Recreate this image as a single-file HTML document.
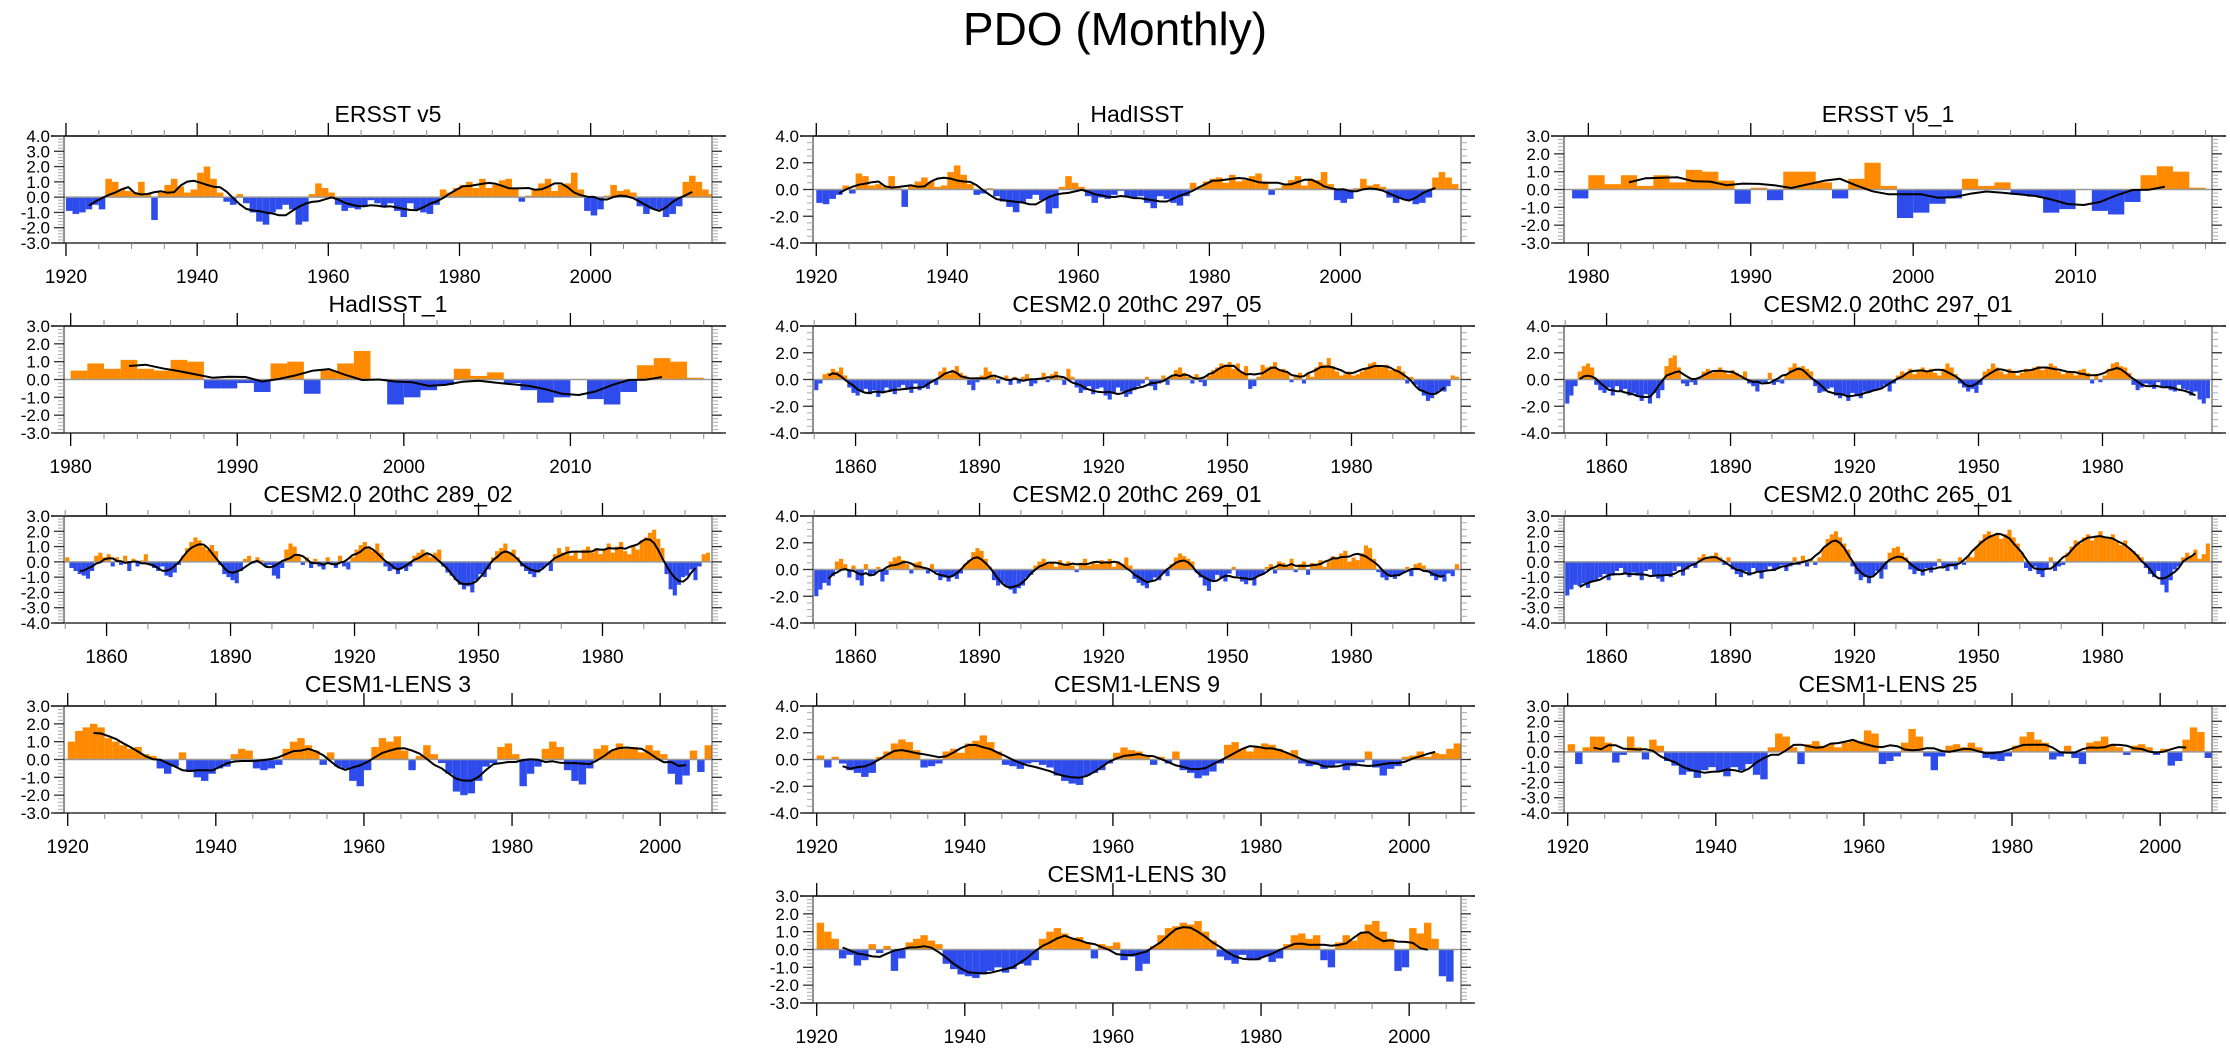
<!DOCTYPE html>
<html><head><meta charset="utf-8"><title>PDO (Monthly)</title>
<style>
html,body{margin:0;padding:0;background:#fff;}
svg{display:block;font-family:"Liberation Sans",Arial,sans-serif;}
</style></head>
<body>
<svg id="fig" width="2230" height="1051" viewBox="0 0 2230 1051" xmlns="http://www.w3.org/2000/svg">
<rect width="2230" height="1051" fill="#fff"/>
<text x="1115" y="45" font-size="46" text-anchor="middle" fill="#000">PDO (Monthly)</text>
</svg>
<script>
// ---- data: annual PDO values, one array per panel ----
const ersstV5Start = 1920;
const ersstV5Values = [-0.9,-1.1,-1.0,-0.8,-0.5,-0.8,1.2,1.0,0.5,0.4, 0.3,1.0,0.2,-1.5,0.3,0.8,1.2,0.7,0.3,0.5, 1.6,2.0,1.2,0.3,-0.3,-0.5,0.2,-0.4,-1.0,-1.6, -1.8,-1.0,-0.8,-0.5,-0.8,-1.8,-1.6,0.2,0.9,0.6, 0.3,-0.5,-0.9,-0.7,-0.8,-0.6,-0.2,-0.4,-0.6,-0.4, -0.9,-1.3,-0.4,-0.8,-1.0,-1.1,-0.5,0.5,0.3,0.6, 0.8,1.0,0.6,1.2,0.6,0.8,1.1,1.2,0.6,-0.3, 0.1,0.5,0.9,1.2,0.4,0.8,0.9,1.6,0.5,-0.9, -1.2,-0.8,0.1,0.8,0.4,0.5,0.3,-0.6,-1.1,-0.8, -0.8,-1.3,-1.1,-0.6,1.0,1.4,1.0,0.5,0.2];
const hadisstStart = 1920;
const hadisstValues = [-1.0,-1.1,-0.7,-0.4,0.3,-0.3,1.2,1.0,0.3,0.4, 0.2,1.0,0.1,-1.3,0.3,0.6,0.9,0.6,0.2,0.3, 1.3,1.8,1.1,0.4,-0.4,-0.3,0.1,-0.5,-0.9,-1.3, -1.7,-1.0,-0.7,-0.4,-0.8,-1.8,-1.4,0.2,1.0,0.5, 0.2,-0.5,-1.0,-0.6,-0.7,-0.4,-0.1,-0.5,-0.6,-0.5, -1.0,-1.4,-0.5,-0.7,-1.0,-1.2,-0.5,0.5,0.2,0.6, 0.8,0.9,0.5,1.1,0.6,0.7,1.0,1.2,0.6,-0.4, 0.1,0.3,0.7,1.0,0.3,0.8,0.7,1.3,0.4,-0.8, -1.0,-0.7,0.1,0.8,0.3,0.4,0.2,-0.6,-1.0,-0.7, -0.8,-1.1,-1.0,-0.6,0.9,1.3,0.9,0.4];
const ersstV51Start = 1979;
const ersstV51Values = [-0.5,0.8,0.3,0.8,0.2,0.8,0.4,1.1,1.0,0.5, -0.8,0.1,-0.6,1.0,1.0,0.4,-0.5,0.6,1.5,0.2, -1.6,-1.3,-0.8,-0.5,0.6,0.2,0.4,-0.3,-0.4,-1.3, -1.1,0.0,-1.2,-1.4,-0.7,0.8,1.3,1.0,0.1,0.0];
const hadisst1Start = 1980;
const hadisst1Values = [0.5,0.9,0.6,1.1,0.6,0.5,1.1,1.0,-0.5,-0.5, -0.2,-0.7,0.9,1.0,-0.8,0.5,0.9,1.6,0.0,-1.4, -1.0,-0.6,-0.3,0.6,0.2,0.4,-0.2,-0.6,-1.3,-1.0, 0.0,-1.1,-1.4,-0.7,0.8,1.2,1.0,0.1,0.0];
const cesm29705Start = 1850;
const cesm29705Values = [-0.8,-0.3,0.4,0.5,0.8,0.6,0.9,0.3,-0.6,-1.0, -1.2,-0.9,-0.7,-1.1,-0.8,-1.3,-1.0,-0.6,-0.9,-1.1, -0.6,-0.4,-0.7,-1.0,-0.3,-0.8,-0.5,-0.7,-0.2,-0.4, 0.6,0.9,0.4,0.7,1.0,0.5,0.3,-0.4,-0.8,-0.2, 0.3,0.9,0.6,0.2,-0.3,0.1,0.3,-0.4,0.2,-0.3, 0.2,0.4,-0.5,-0.3,0.1,0.5,-0.2,0.4,0.6,0.1, -0.4,0.8,0.2,-0.6,-1.0,-0.8,-0.5,-1.1,-0.7,-0.6, -1.2,-1.5,-1.0,-0.6,-0.9,-1.3,-1.1,-0.8,-0.5,-0.3, 0.2,-0.5,-0.8,-0.3,0.3,-0.4,0.2,0.7,0.9,0.5, 0.2,-0.3,0.4,-0.2,-0.5,0.3,0.7,0.9,1.2,1.1, 1.3,0.8,1.2,0.6,1.0,-0.7,-0.5,0.2,1.1,0.9, 1.0,1.3,0.7,0.8,0.5,-0.2,0.3,0.5,-0.3,0.4, 0.2,0.9,1.3,1.1,1.6,1.0,0.6,0.3,0.4,0.6, 0.3,0.4,0.6,0.9,1.2,1.3,1.0,0.9,1.1,0.7, 0.8,1.0,0.6,-0.3,0.2,-0.4,-0.8,-1.2,-1.6,-1.4, -1.0,-0.8,-0.9,-0.5,0.3,0.2];
const cesm29701Start = 1850;
const cesm29701Values = [-1.8,-1.2,-0.5,0.6,1.0,1.2,0.9,-0.4,-0.8,-1.0, -0.6,-1.2,-0.5,-0.9,-0.7,-1.2,-1.0,-1.3,-1.6,-1.1, -1.8,-1.0,-1.4,-0.8,1.0,1.6,1.8,0.9,-0.3,-0.5, -0.2,-0.4,0.2,0.6,0.8,0.5,0.7,0.9,0.6,0.4, 0.7,0.5,0.3,0.6,-0.3,-0.5,-0.9,-0.2,-0.3,0.5, -0.4,-0.2,-0.3,0.4,0.9,1.2,0.9,1.0,0.8,0.6, -0.5,-1.0,-0.9,-0.7,-0.6,-1.2,-1.4,-1.1,-1.6,-1.0, -1.2,-1.4,-0.9,-1.0,-0.8,-0.7,-0.6,-0.4,-0.9,-0.3, 0.3,0.6,0.5,0.8,0.4,0.7,0.9,0.6,0.8,0.5, 0.3,0.8,1.2,0.9,0.4,-0.3,-0.6,-0.9,-0.7,-1.0, -0.4,0.6,0.8,1.2,0.9,0.6,0.4,0.8,0.6,0.3, 0.5,0.8,0.6,0.9,1.0,0.7,0.9,1.2,1.0,0.6, 0.4,0.6,0.5,0.3,0.7,0.8,0.5,-0.3,0.4,-0.2, 0.3,0.8,1.2,1.3,1.0,0.9,0.5,-0.4,-0.8,-0.6, -0.3,-0.4,-0.7,-0.2,-0.5,-0.6,-0.8,-0.9,-0.4,-0.7, -0.8,-1.2,-0.9,-1.5,-1.8,-1.4];
const cesm28902Start = 1850;
const cesm28902Values = [0.3,-0.4,-0.6,-0.8,-0.9,-1.1,-0.6,0.4,0.6,0.3, 0.5,-0.3,0.3,-0.2,0.4,-0.6,0.2,-0.3,0.1,0.5, -0.2,-0.4,-0.6,-0.3,-0.9,-1.0,-0.7,-0.2,0.4,0.9, 1.3,1.6,1.4,1.0,0.8,1.1,0.7,-0.2,-0.8,-1.0, -1.2,-1.4,-0.6,0.2,0.4,-0.1,0.3,0.1,-0.3,-0.2, -0.9,-1.1,-0.4,0.8,1.2,1.0,0.5,-0.2,0.3,-0.4, 0.2,-0.3,-0.5,0.3,-0.2,-0.4,0.4,-0.3,-0.5,0.3, 0.8,1.1,1.3,1.0,0.7,1.2,0.6,-0.3,-0.6,-0.5, -0.8,-0.4,-0.6,-0.3,0.4,0.6,0.8,0.5,0.3,0.6, 0.8,-0.3,-0.7,-0.9,-1.2,-1.5,-1.8,-1.6,-2.0,-1.2, -0.8,-1.0,-0.5,0.3,0.7,0.9,1.2,0.6,0.8,0.3, -0.3,-0.6,-0.8,-1.0,-0.7,-0.4,-0.2,-0.6,0.5,0.9, 0.6,1.0,0.4,0.7,0.2,0.8,1.0,0.6,0.9,0.5, 0.8,1.2,0.6,1.0,1.3,0.7,0.5,1.1,0.8,1.4, 1.6,1.9,2.1,1.5,0.9,-0.8,-1.8,-2.2,-1.5,-1.0, -0.9,-0.5,-1.2,-0.3,0.5,0.6];
const cesm26901Start = 1850;
const cesm26901Values = [-2.0,-1.5,-1.0,-1.2,-0.5,0.6,0.8,0.4,-0.6,0.3, -0.8,-1.2,0.4,-0.5,-0.3,0.2,-0.9,-0.4,0.6,0.9, 1.0,0.7,0.4,-0.3,0.5,0.6,0.2,-0.3,0.4,-0.2, -0.8,-0.6,-0.9,-0.5,-0.7,-0.3,0.4,0.7,1.3,1.6, 1.4,0.8,0.2,-0.8,-1.2,-1.0,-1.3,-1.5,-1.8,-1.4, -1.2,-0.6,-0.4,0.3,0.6,0.8,0.4,0.5,0.2,0.7, 0.4,0.6,0.3,-0.2,0.5,0.8,0.3,0.6,0.4,0.7, 0.5,0.8,0.2,0.6,0.4,0.9,0.3,-0.7,-1.0,-1.2, -1.4,-0.9,-0.6,-0.8,-0.3,-0.5,0.4,0.9,1.2,1.0, 0.8,0.6,-0.2,-0.6,-1.2,-1.6,-0.8,-0.4,-0.6,-0.9, -0.3,0.2,-0.5,-0.9,-1.1,-0.7,-1.2,-0.5,-0.4,0.2, 0.4,-0.3,0.6,0.5,0.2,0.8,-0.2,0.4,0.6,-0.4, 0.5,0.3,0.7,0.2,0.6,1.0,0.8,1.2,1.4,0.6, 0.9,0.7,1.2,1.8,1.6,0.8,-0.2,-0.6,-0.8,-0.5, -0.7,-0.4,-0.3,0.2,-0.5,0.4,0.5,0.3,-0.2,-0.5, -0.8,-0.6,-0.9,-0.3,-0.5,0.4];
const cesm26501Start = 1850;
const cesm26501Values = [-2.2,-1.8,-1.5,-1.6,-1.4,-1.7,-1.3,-1.2,-1.0,-0.8, -1.2,-0.9,-0.6,-0.4,-0.8,-1.0,-0.7,-0.9,-1.2,-0.6, -0.5,-0.9,-1.1,-1.3,-0.8,-1.0,-0.6,-0.3,-0.9,-0.5, -0.2,-0.4,0.3,0.5,0.2,0.4,0.6,0.3,-0.2,0.3, -0.5,-0.8,-1.0,-0.6,-0.9,-0.4,-0.7,-1.1,-0.5,-0.3, -0.6,-0.4,-0.2,-0.6,-0.3,0.3,-0.2,0.4,-0.3,0.2, -0.2,0.3,0.9,1.5,1.8,2.0,1.6,1.2,0.8,-0.3, -0.8,-1.2,-1.0,-1.4,-0.9,-0.6,-1.1,-0.5,0.6,0.9, 1.0,0.6,0.3,-0.5,-0.8,-0.6,-0.9,-0.4,-0.7,-0.3, 0.2,-0.4,-0.6,-0.3,-0.5,0.3,-0.2,0.4,0.3,1.0, 1.4,1.8,2.0,1.7,1.9,1.5,1.8,2.1,1.6,1.2, 0.6,-0.4,-0.6,-0.3,-0.8,-1.0,-0.5,0.3,-0.6,-0.3, -0.2,0.6,1.0,1.4,1.2,1.6,1.8,1.4,1.7,2.0, 1.6,1.5,1.8,1.3,1.1,1.4,0.9,0.7,0.5,0.3, -0.4,-0.8,-1.0,-0.6,-1.5,-2.0,-1.2,-0.5,-0.3,0.3, 0.6,0.4,0.8,0.2,0.5,1.2];
const lens3Start = 1920;
const lens3Values = [1.0,1.6,1.8,2.0,1.8,1.2,1.0,0.8,0.6,0.7, 0.3,0.2,-0.5,-0.8,-0.4,0.4,-0.7,-1.0,-1.2,-0.8, -0.5,-0.4,0.3,0.6,0.5,-0.5,-0.6,-0.5,-0.3,0.6, 1.0,1.2,0.8,0.5,-0.3,0.4,-0.4,-0.5,-1.2,-1.5, -0.6,0.7,1.2,1.0,1.3,0.5,-0.6,0.2,0.8,0.3, -0.2,-0.8,-1.8,-2.0,-1.9,-1.2,-0.4,-0.2,0.7,0.9, 0.3,-1.5,-0.8,-0.4,0.6,1.0,0.7,-0.6,-1.2,-1.4, -0.5,0.6,0.8,0.5,0.9,0.6,0.7,0.4,0.8,0.5, 0.3,-0.8,-1.4,-0.9,0.5,-0.7,0.8];
const lens9Start = 1920;
const lens9Values = [0.3,-0.6,0.2,-0.3,-0.8,-1.0,-1.3,-1.0,0.2,0.6, 1.2,1.5,1.3,0.7,-0.6,-0.5,-0.3,0.6,0.8,0.5, 1.2,1.4,1.8,1.3,0.6,-0.4,-0.5,-0.7,-0.3,-0.2, -0.4,-0.6,-1.2,-1.6,-1.8,-1.9,-1.2,-1.0,-0.8,-0.3, 0.5,0.9,0.7,0.6,0.3,-0.4,0.2,-0.3,0.6,-0.8, -1.0,-1.4,-1.2,-0.9,-0.3,1.1,1.3,0.8,0.6,0.9, 1.2,1.1,0.8,0.5,0.7,-0.3,-0.5,-0.4,-0.7,-0.6, -0.3,-0.8,-0.5,-0.2,0.6,-0.6,-1.2,-0.7,-0.5,0.2, 0.3,0.6,0.2,0.5,0.4,0.8,1.2];
const lens25Start = 1920;
const lens25Values = [0.5,-0.8,0.3,1.0,1.0,0.6,-0.7,-0.2,1.0,0.3, -0.5,0.8,0.4,-0.6,-0.9,-1.5,-1.3,-1.7,-1.2,-1.0, -1.3,-1.6,-1.0,-1.2,-0.8,-1.5,-1.8,0.3,1.2,1.0, 0.3,-0.8,0.5,0.7,0.4,0.5,0.3,0.6,0.8,0.7, 1.4,1.2,-0.8,-0.6,-0.3,0.6,1.5,1.0,-0.3,-1.2, -0.3,0.4,0.5,0.3,0.6,0.3,-0.4,-0.5,-0.6,-0.3, 0.4,1.0,1.3,0.8,0.6,-0.5,-0.3,0.4,-0.4,-0.8, 0.6,0.7,1.0,0.5,0.3,-0.2,0.4,0.5,0.3,-0.2, 0.2,-0.9,-0.6,0.8,1.6,1.3,-0.4];
const lens30Start = 1920;
const lens30Values = [1.5,1.0,0.6,-0.5,-0.3,-0.9,-0.6,0.3,-0.2,0.2, -1.2,-0.5,0.4,0.6,0.8,0.5,0.3,-0.8,-1.1,-1.4, -1.5,-1.6,-1.4,-1.2,-1.0,-1.3,-1.1,-0.8,-0.9,-0.6, 0.6,1.0,1.2,0.9,0.6,0.7,0.4,-0.5,0.3,0.2, 0.4,-0.6,-0.4,-1.2,-0.8,0.2,0.8,1.2,1.3,1.5, 1.4,1.6,1.0,0.5,-0.4,-0.6,-0.8,-0.3,-0.5,-0.6, -0.4,-0.7,-0.5,0.3,0.8,0.9,0.6,0.8,-0.6,-1.0, 0.4,0.8,0.5,0.9,1.4,1.6,1.0,0.6,-1.2,-1.0, 1.2,0.9,1.5,0.6,-1.5,-1.8];

// tick label arrays
const yearTicks1920 = [1920,1940,1960,1980,2000];
const yearTicks1980 = [1980,1990,2000,2010];
const yearTicks1860 = [1860,1890,1920,1950,1980];
const yTicks4to3 = [4,3,2,1,0,-1,-2,-3];
const yTicks4to4 = [4,2,0,-2,-4];
const yTicks3to3 = [3,2,1,0,-1,-2,-3];
const yTicks3to4 = [3,2,1,0,-1,-2,-3,-4];

// ---- layout ----
const colLeft = [64, 813, 1564];
const rowTop = [136, 326, 516, 706, 896];
const PW = 648, PH = 107;

const panels = [
 {name:'ersst-v5', title:'ERSST v5', r:0,c:0, start:ersstV5Start, vals:ersstV5Values, x0:1919.7,x1:2018.5, y0:-3,y1:4, yt:yTicks4to3, xt:yearTicks1920, minorX:5, minorY:0.2},
 {name:'hadisst', title:'HadISST', r:0,c:1, start:hadisstStart, vals:hadisstValues, x0:1919.5,x1:2018.4, y0:-4,y1:4, yt:yTicks4to4, xt:yearTicks1920, minorX:5, minorY:0.5},
 {name:'ersst-v5-1', title:'ERSST v5_1', r:0,c:2, start:ersstV51Start, vals:ersstV51Values, x0:1978.5,x1:2018.4, y0:-3,y1:3, yt:yTicks3to3, xt:yearTicks1980, minorX:2, minorY:0.2},
 {name:'hadisst-1', title:'HadISST_1', r:1,c:0, start:hadisst1Start, vals:hadisst1Values, x0:1979.6,x1:2018.5, y0:-3,y1:3, yt:yTicks3to3, xt:yearTicks1980, minorX:2, minorY:0.2},
 {name:'cesm2-297-05', title:'CESM2.0 20thC 297_05', r:1,c:1, start:cesm29705Start, vals:cesm29705Values, x0:1849.7,x1:2006.5, y0:-4,y1:4, yt:yTicks4to4, xt:yearTicks1860, minorX:10, minorY:0.5},
 {name:'cesm2-297-01', title:'CESM2.0 20thC 297_01', r:1,c:2, start:cesm29701Start, vals:cesm29701Values, x0:1849.7,x1:2006.5, y0:-4,y1:4, yt:yTicks4to4, xt:yearTicks1860, minorX:10, minorY:0.5},
 {name:'cesm2-289-02', title:'CESM2.0 20thC 289_02', r:2,c:0, start:cesm28902Start, vals:cesm28902Values, x0:1849.7,x1:2006.5, y0:-4,y1:3, yt:yTicks3to4, xt:yearTicks1860, minorX:10, minorY:0.2},
 {name:'cesm2-269-01', title:'CESM2.0 20thC 269_01', r:2,c:1, start:cesm26901Start, vals:cesm26901Values, x0:1849.7,x1:2006.5, y0:-4,y1:4, yt:yTicks4to4, xt:yearTicks1860, minorX:10, minorY:0.5},
 {name:'cesm2-265-01', title:'CESM2.0 20thC 265_01', r:2,c:2, start:cesm26501Start, vals:cesm26501Values, x0:1849.7,x1:2006.5, y0:-4,y1:3, yt:yTicks3to4, xt:yearTicks1860, minorX:10, minorY:0.2},
 {name:'cesm1-lens-3', title:'CESM1-LENS 3', r:3,c:0, start:lens3Start, vals:lens3Values, x0:1919.5,x1:2007, y0:-3,y1:3, yt:yTicks3to3, xt:yearTicks1920, minorX:5, minorY:0.2},
 {name:'cesm1-lens-9', title:'CESM1-LENS 9', r:3,c:1, start:lens9Start, vals:lens9Values, x0:1919.5,x1:2007, y0:-4,y1:4, yt:yTicks4to4, xt:yearTicks1920, minorX:5, minorY:0.5},
 {name:'cesm1-lens-25', title:'CESM1-LENS 25', r:3,c:2, start:lens25Start, vals:lens25Values, x0:1919.5,x1:2007, y0:-4,y1:3, yt:yTicks3to4, xt:yearTicks1920, minorX:5, minorY:0.2},
 {name:'cesm1-lens-30', title:'CESM1-LENS 30', r:4,c:1, start:lens30Start, vals:lens30Values, x0:1919.5,x1:2007, y0:-3,y1:3, yt:yTicks3to3, xt:yearTicks1920, minorX:5, minorY:0.2}
];

const NS = 'http://www.w3.org/2000/svg';
const svg = document.getElementById('fig');
function mk(tag, attrs, parent){
  const e = document.createElementNS(NS, tag);
  for (const k in attrs) e.setAttribute(k, attrs[k]);
  parent.appendChild(e);
  return e;
}
function fmt(v){ return v.toFixed(1); }

panels.forEach(p => {
  const L = colLeft[p.c], T = rowTop[p.r], R = L + PW, B = T + PH;
  const xs = yr => L + (yr - p.x0) / (p.x1 - p.x0) * PW;
  const ys = v => B - (v - p.y0) / (p.y1 - p.y0) * PH;
  const g = mk('g', {}, svg);
  
  

  const title = mk('text', {x:(L+R)/2, y:T-14, 'font-size':23, 'text-anchor':'middle', fill:'#000'}, g);
  title.textContent = p.title;
  
  

  // bars
  const bars = mk('g', {}, g);
  
  
  p.vals.forEach((v, i) => {
    const yr = p.start + i;
    const xa = Math.max(L, xs(yr)), xb = Math.min(R, xs(yr + 1));
    if (xb <= xa) return;
    const y0 = ys(0), yv = ys(v);
    const r = mk('rect', {x:xa.toFixed(2), y:Math.min(y0,yv).toFixed(2), width:(xb-xa).toFixed(2), height:Math.abs(yv-y0).toFixed(2), fill: v >= 0 ? '#ff8a00' : '#2e4ceb'}, bars);
    
    
  });

  // zero line
  const z = mk('line', {x1:L, x2:R, y1:ys(0), y2:ys(0), stroke:'#999', 'stroke-width':1.5}, g);
  
  

  // smoothed running mean (7-yr)
  const w = 3, pts = [];
  for (let i = w; i < p.vals.length - w; i++) {
    let s = 0;
    for (let k = -w; k <= w; k++) s += p.vals[i + k];
    pts.push(xs(p.start + i + 0.5).toFixed(1) + ',' + ys(s / (2*w+1)).toFixed(1));
  }
  const line = mk('polyline', {points:pts.join(' '), fill:'none', stroke:'#000', 'stroke-width':2, 'stroke-linejoin':'round'}, g);
  
  

  // frame
  mk('line', {x1:L, x2:L, y1:T, y2:B, stroke:'#444', 'stroke-width':1.2}, g);
  mk('line', {x1:R, x2:R, y1:T, y2:B, stroke:'#666', 'stroke-width':1.2}, g);
  mk('line', {x1:L-13, x2:R+14, y1:T, y2:T, stroke:'#000', 'stroke-width':1.5}, g);
  mk('line', {x1:L-13, x2:R+14, y1:B, y2:B, stroke:'#333', 'stroke-width':1.5}, g);

  // y minor ticks
  for (let v = p.y0; v <= p.y1 + 1e-6; v += p.minorY) {
    const yy = ys(v).toFixed(1);
    mk('line', {x1:L-6, x2:L, y1:yy, y2:yy, stroke:'#aaa', 'stroke-width':1}, g);
    mk('line', {x1:R, x2:R+6, y1:yy, y2:yy, stroke:'#aaa', 'stroke-width':1}, g);
  }
  // y major ticks + labels
  p.yt.forEach(v => {
    const yy = ys(v);
    mk('line', {x1:L-10, x2:L, y1:yy, y2:yy, stroke:'#333', 'stroke-width':1.3}, g);
    mk('line', {x1:R, x2:R+10, y1:yy, y2:yy, stroke:'#333', 'stroke-width':1.3}, g);
    const t = mk('text', {x:L-14, y:yy+6, 'font-size':17, 'text-anchor':'end', fill:'#000'}, g);
    t.textContent = fmt(v);
    
    
  });

  // x minor ticks
  const firstMinor = Math.ceil(p.x0 / p.minorX) * p.minorX;
  for (let yr = firstMinor; yr <= p.x1; yr += p.minorX) {
    const xx = xs(yr).toFixed(1);
    mk('line', {x1:xx, x2:xx, y1:T-6, y2:T, stroke:'#888', 'stroke-width':1}, g);
    mk('line', {x1:xx, x2:xx, y1:B, y2:B+6, stroke:'#888', 'stroke-width':1}, g);
  }
  // x major ticks + labels
  p.xt.forEach(yr => {
    const xx = xs(yr);
    mk('line', {x1:xx, x2:xx, y1:T-13, y2:T, stroke:'#000', 'stroke-width':1.3}, g);
    mk('line', {x1:xx, x2:xx, y1:B, y2:B+13, stroke:'#000', 'stroke-width':1.3}, g);
    const t = mk('text', {x:xx, y:B+40, 'font-size':19, 'text-anchor':'middle', fill:'#000'}, g);
    t.textContent = yr;
    
    
  });
});
</script>
</body></html>
